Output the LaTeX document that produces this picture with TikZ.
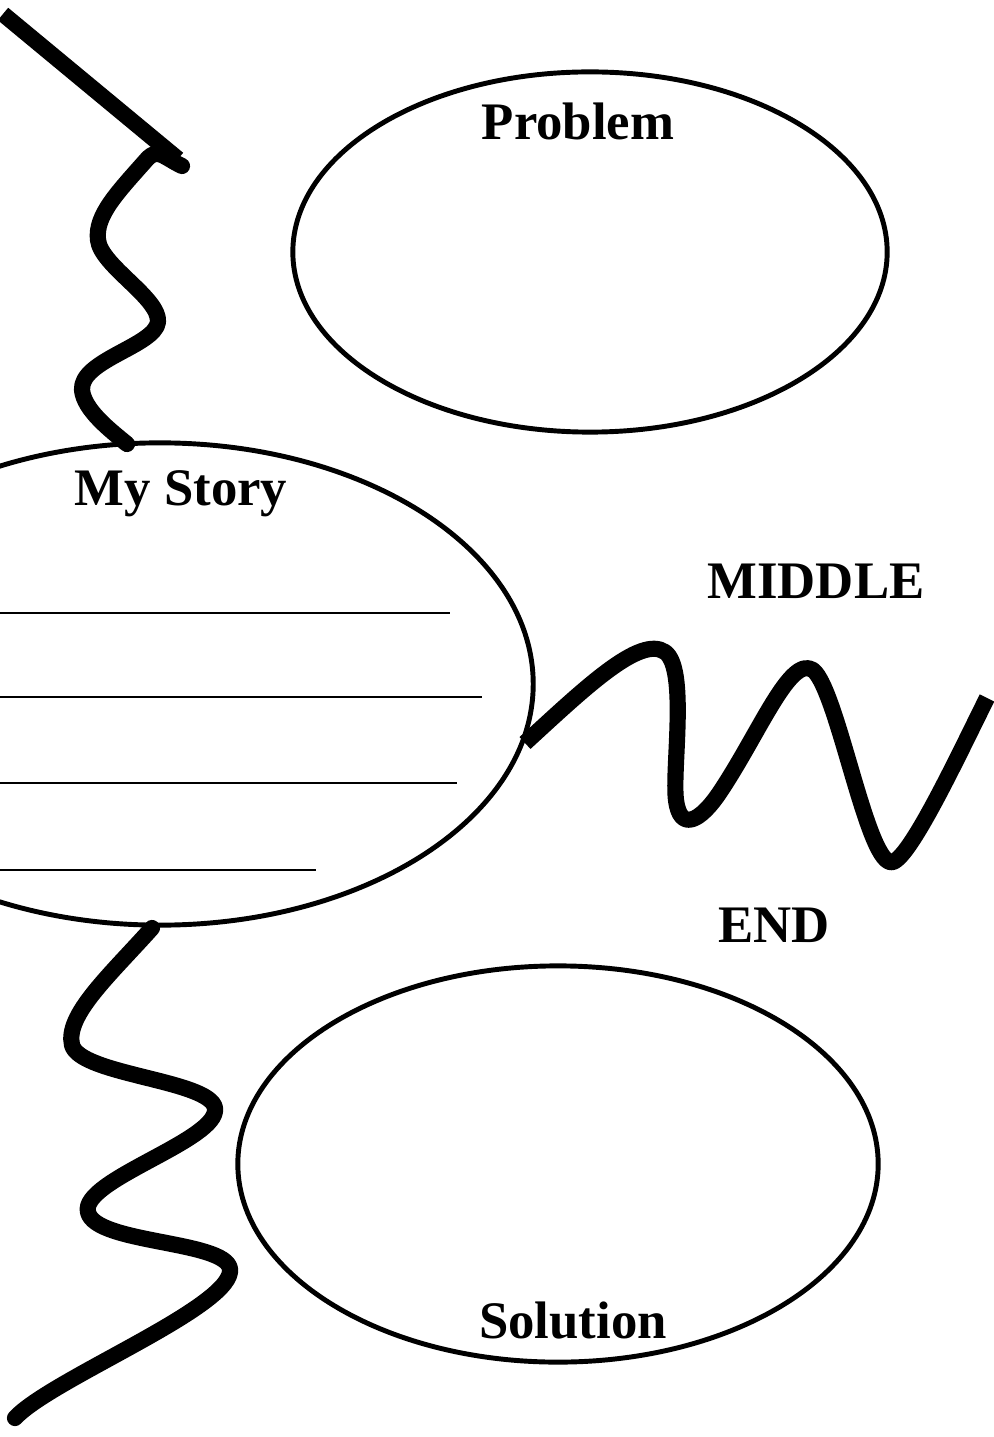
\documentclass[tikz,border=0pt]{standalone}
\usepackage{fontspec}
\setmainfont{Liberation Serif}
\usetikzlibrary{shapes.geometric}
\tikzset{
  oval/.style={ellipse, draw=black, line width=1.4pt, inner sep=0pt},
  wave/.style={draw=black, line width=4.6pt, line join=round},
  headtext/.style={font=\fontsize{15}{18}\selectfont\bfseries, anchor=base, inner sep=0pt},
  writeline/.style={draw=black, line width=0.8pt}
}
\begin{document}
\begin{tikzpicture}[x=0.01cm, y=-0.01cm]
  \useasboundingbox (0,0) rectangle (993,1437);
  % squiggles
  \draw[wave] (3,14) -- (178,159);
  \draw[wave, line cap=round] (182,166) .. controls (165,158) and (158,148) .. (148,158)
    .. controls (118,192) and (95,215) .. (98,240)
    .. controls (101,266) and (160,298) .. (158,322)
    .. controls (155,346) and (80,360) .. (82,390)
    .. controls (84,410) and (110,430) .. (127,444);
  \draw[wave] (525,743) .. controls (585,688) and (640,635) .. (665,652)
    .. controls (688,668) and (672,770) .. (676,800)
    .. controls (680,832) and (700,822) .. (720,792)
    .. controls (760,732) and (790,655) .. (813,670)
    .. controls (838,690) and (868,870) .. (893,862)
    .. controls (912,855) and (960,752) .. (987,698);
  \draw[wave, line cap=round] (152,928) .. controls (110,975) and (65,1015) .. (72,1045)
    .. controls (80,1075) and (210,1080) .. (215,1108)
    .. controls (220,1140) and (80,1180) .. (88,1212)
    .. controls (95,1245) and (235,1240) .. (230,1272)
    .. controls (225,1310) and (50,1380) .. (15,1418);
  % ovals
  \node[oval, minimum width=5.94cm, minimum height=3.60cm] (problem) at (590,252) {};
  \node[oval, minimum width=7.46cm, minimum height=4.82cm] (story) at (160,684) {};
  \node[oval, minimum width=6.40cm, minimum height=3.96cm] (solution) at (558,1164) {};
  % texts
  \node[headtext] (problemtxt) at (578,140) {Problem};
  \node[headtext] (storytxt) at (181,505) {My Story};
  \node[headtext] (middletxt) at (816,598) {MIDDLE};
  \node[headtext] (endtxt) at (774,942) {END};
  \node[headtext] (solutiontxt) at (573,1338) {Solution};
  % writing lines
  \draw[writeline] (0,613) -- (450,613);
  \draw[writeline] (0,697) -- (482,697);
  \draw[writeline] (0,783) -- (457,783);
  \draw[writeline] (0,870) -- (316,870);
\end{tikzpicture}
\end{document}
